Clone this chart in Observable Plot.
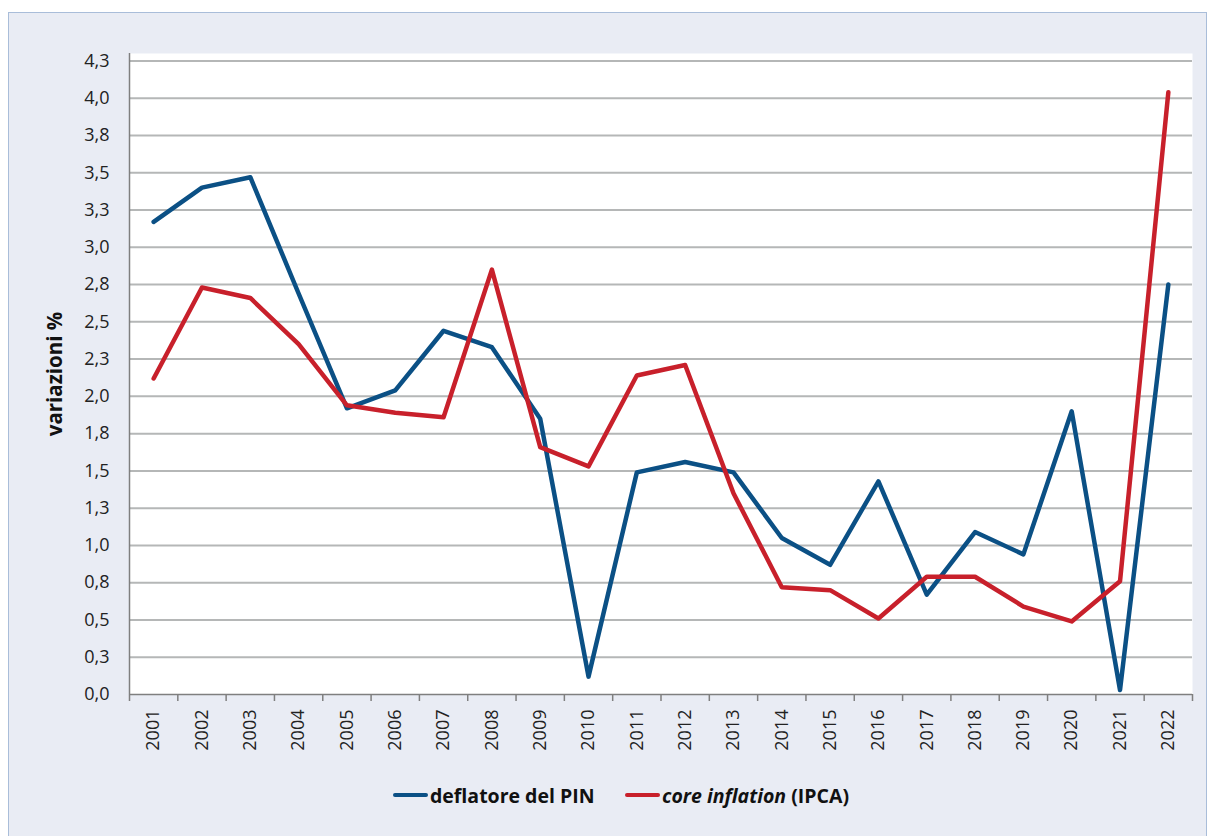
<!DOCTYPE html>
<html>
<head>
<meta charset="utf-8">
<script src="https://cdn.jsdelivr.net/npm/d3@7"></script>
<script src="https://cdn.jsdelivr.net/npm/@observablehq/plot@0.6"></script>
<style>
  html, body { margin: 0; padding: 0; background: #ffffff; }
  body { width: 1207px; height: 836px; position: relative; overflow: hidden; font-family: "Open Sans", "Noto Sans", sans-serif; }
  #frame { position: absolute; left: 8px; top: 12px; width: 1197px; height: 830px; background: #e9ecf4; border-left: 1px solid #a9bdd9; border-top: 1px solid #a9bdd9; border-right: 1px solid #a9bdd9; }
  #chart { position: absolute; left: 0; top: 0; }
  #chart svg { background: transparent; overflow: visible; }
  #legend { position: absolute; top: 780px; left: 0; width: 1207px; height: 30px; font-size: 19.5px; font-weight: bold; color: #111; }
  .item { position: absolute; top: 0; display: flex; align-items: center; height: 30px; white-space: nowrap; }
  .sw { width: 35px; height: 4px; border-radius: 2px; margin-right: 2px; }
</style>
</head>
<body>
<div id="frame"></div>
<div id="chart"></div>
<div id="legend"></div>
<script>
const years = [2001,2002,2003,2004,2005,2006,2007,2008,2009,2010,2011,2012,2013,2014,2015,2016,2017,2018,2019,2020,2021,2022];
const deflatore = [3.17,3.40,3.47,2.69,1.92,2.04,2.44,2.33,1.85,0.12,1.49,1.56,1.49,1.05,0.87,1.43,0.67,1.09,0.94,1.90,0.03,2.75];
const coreInflation = [2.12,2.73,2.66,2.35,1.94,1.89,1.86,2.85,1.66,1.53,2.14,2.21,1.35,0.72,0.70,0.51,0.79,0.79,0.59,0.49,0.76,4.04];
const seriesNames = ["deflatore del PIN", "core inflation (IPCA)"];
const seriesColors = ["#0b5085", "#c8202b"];
const yTicks = [0,0.25,0.5,0.75,1,1.25,1.5,1.75,2,2.25,2.5,2.75,3,3.25,3.5,3.75,4,4.25];
const yTickLabels = ["0,0","0,3","0,5","0,8","1,0","1,3","1,5","1,8","2,0","2,3","2,5","2,8","3,0","3,3","3,5","3,8","4,0","4,3"];
const yTitle = "variazioni %";

const data = [];
years.forEach((y, i) => {
  data.push({year: y, value: deflatore[i], series: seriesNames[0]});
  data.push({year: y, value: coreInflation[i], series: seriesNames[1]});
});
const bounds = years.map(y => y - 0.5).concat([years[years.length - 1] + 0.5]);

const chart = Plot.plot({
  width: 1207,
  height: 760,
  marginLeft: 129,
  marginRight: 15,
  marginTop: 53,
  marginBottom: 66,
  style: {fontFamily: '"Open Sans", "Noto Sans", sans-serif', fontSize: "18px", color: "#222", background: "transparent"},
  x: {type: "linear", domain: [years[0] - 0.5, years[years.length - 1] + 0.5]},
  y: {domain: [0, 4.3]},
  color: {domain: seriesNames, range: seriesColors},
  marks: [
    Plot.frame({fill: "white", stroke: "none"}),
    Plot.gridY(yTicks.filter(d => d > 0), {stroke: "#b5b7b7", strokeOpacity: 1, strokeWidth: 2}),
    Plot.ruleY([0], {stroke: "#7f7f7f", strokeWidth: 1.5}),
    Plot.ruleX([bounds[0]], {stroke: "#7f7f7f", strokeWidth: 1.5}),
    Plot.axisX(bounds, {tickSize: 7, tickFormat: () => "", stroke: "#7f7f7f", strokeWidth: 1.5, label: null}),
    Plot.axisX(years, {tickSize: 0, tickPadding: 15, tickRotate: -90, tickFormat: d => String(d), label: null, fontSize: 18}),
    Plot.axisY(yTicks, {tickSize: 0, tickPadding: 20, tickFormat: (d) => yTickLabels[yTicks.indexOf(d)], fontSize: 18, label: null}),
    Plot.axisY([], {tickSize: 0, label: yTitle, labelAnchor: "center", labelOffset: 82, labelArrow: "none",
      fontSize: 20.5, fontWeight: "bold", fill: "#111"}),
    Plot.line(data, {x: "year", y: "value", stroke: "series", z: "series", strokeWidth: 4.5, strokeLinejoin: "round", strokeLinecap: "round"})
  ]
});
document.getElementById("chart").appendChild(chart);

const legend = document.getElementById("legend");
const items = [
  {left: 393, color: seriesColors[0], html: "deflatore del PIN"},
  {left: 625, color: seriesColors[1], html: "<i>core inflation</i>&nbsp;(IPCA)"}
];
items.forEach(it => {
  const d = document.createElement("div");
  d.className = "item";
  d.style.left = it.left + "px";
  d.innerHTML = `<span class="sw" style="background:${it.color}"></span><span>${it.html}</span>`;
  legend.appendChild(d);
});
</script>
</body>
</html>
